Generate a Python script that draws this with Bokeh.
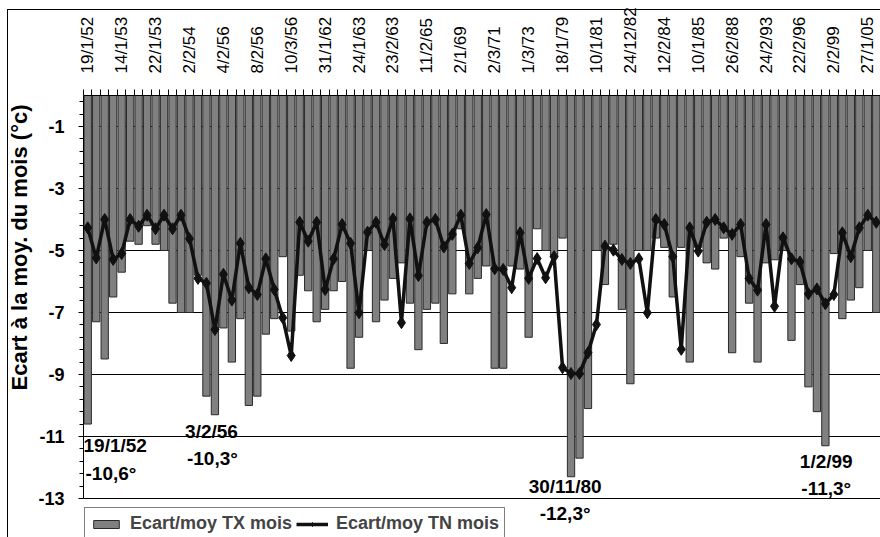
from bokeh.plotting import figure
from bokeh.models import Range1d, FixedTicker, Label, Legend, LegendItem, Title
from bokeh.embed import file_html
from bokeh.resources import INLINE

# Category labels (every 4th event, in chronological order)
dates = ["19/1/52", "14/1/53", "22/1/53", "2/2/54", "4/2/56", "8/2/56", "10/3/56",
         "31/1/62", "24/1/63", "23/2/63", "11/2/65", "2/1/69", "2/3/71", "1/3/73",
         "18/1/79", "10/1/81", "24/12/82", "12/2/84", "10/1/85", "26/2/88",
         "24/2/93", "22/2/96", "2/2/99", "27/1/05"]

# Ecart/moy TX mois (bars)
tx = [-10.6, -7.3, -8.5, -6.5, -5.7, -4.7, -4.8, -4.2, -4.8, -5.0,
      -6.7, -7.0, -7.0, -5.8, -9.7, -10.3, -7.5, -8.6, -7.2, -10.0,
      -9.7, -7.7, -7.2, -5.2, -7.6, -5.8, -6.3, -7.3, -6.9, -6.3,
      -6.0, -8.8, -7.8, -5.0, -7.3, -6.6, -5.9, -5.4, -6.7, -8.2,
      -6.9, -6.7, -8.0, -6.4, -4.3, -6.4, -5.9, -5.5, -8.8, -8.8,
      -5.5, -5.6, -7.8, -4.3, -5.0, -5.2, -4.6, -12.3, -11.7, -10.1,
      -5.0, -6.1, -4.8, -6.9, -9.3, -5.0, -5.0, -4.6, -4.9, -6.5,
      -4.9, -8.6, -4.9, -5.4, -5.6, -4.6, -8.3, -5.2, -6.7, -8.6,
      -5.4, -5.3, -5.0, -7.9, -6.1, -9.4, -10.2, -11.3, -5.1, -7.2,
      -6.6, -6.2, -5.0, -7.0]

# Ecart/moy TN mois (line)
tn = [-4.27, -5.24, -4.0, -5.29, -5.1, -4.0, -4.22, -3.86, -4.3, -3.86,
      -4.3, -3.86, -4.62, -5.9, -6.06, -7.55, -5.77, -6.6, -4.77, -6.2,
      -6.42, -5.27, -6.26, -7.17, -8.39, -4.09, -4.7, -4.09, -6.26, -5.27,
      -4.16, -4.77, -7.01, -4.41, -4.09, -4.81, -3.98, -7.33, -3.98, -5.81,
      -4.09, -4.0, -4.89, -4.48, -3.86, -5.42, -4.91, -3.84, -5.59, -5.61,
      -6.2, -4.43, -5.9, -5.26, -5.88, -5.2, -8.78, -8.97, -8.97, -8.3,
      -7.39, -4.86, -4.99, -5.29, -5.42, -5.27, -7.01, -4.0, -4.16, -5.2,
      -8.19, -4.27, -5.02, -4.09, -4.0, -4.27, -4.48, -4.16, -5.9, -6.28,
      -4.16, -6.8, -4.59, -5.27, -5.37, -6.4, -6.24, -6.72, -6.42, -4.43,
      -5.2, -4.27, -3.86, -4.09]

y_ticks = [-13, -11, -9, -7, -5, -3, -1]
y_title = "Ecart à la moy. du mois (°c)"

FONT = "Liberation Sans"
n = len(tx)
xs = [i + 0.5 for i in range(n)]

p = figure(width=880, height=537, x_range=Range1d(0, n), y_range=Range1d(-14.26, 0),
           x_axis_location="above", output_backend="svg", toolbar_location=None,
           min_border_left=83, min_border_top=95, min_border_bottom=0, min_border_right=0)
p.outline_line_color = None
p.background_fill_color = "white"
p.border_fill_color = None
p.styles = {"background": "linear-gradient(#000,#000) 7px 9px / 1px 100% no-repeat, "
                          "linear-gradient(#000,#000) 7px 9px / 100% 1px no-repeat, #fff"}

bars = p.vbar(x=xs, top=0, bottom=tx, width=0.86, fill_color="#808080",
              line_color="#2a2a2a", line_width=1)
ln = p.line(xs, tn, line_color="#111111", line_width=3.5, line_join="round")
mk = p.scatter(xs, tn, marker="diamond", size=12, fill_color="#111111", line_color="#111111")

# top category axis
xa = p.xaxis[0]
label_ticks = [xs[4 * i] for i in range(len(dates))]
xa.ticker = FixedTicker(ticks=label_ticks, minor_ticks=list(range(n + 1)))
xa.major_label_overrides = {t: d for t, d in zip(label_ticks, dates)}
xa.major_tick_out = 0
xa.major_tick_in = 0
xa.minor_tick_out = 6
xa.minor_tick_in = 0
xa.minor_tick_line_color = "black"
xa.axis_line_color = "black"
xa.major_label_orientation = "vertical"
xa.major_label_text_font = FONT
xa.major_label_text_font_size = "17px"
xa.major_label_text_color = "black"
xa.major_label_standoff = 16

ya = p.yaxis[0]
ya.bounds = (-13, 0)
ya.ticker = FixedTicker(ticks=y_ticks, minor_ticks=[round(-13 + 0.4 * k, 1) for k in range(33)])
ya.major_label_overrides = {t: str(t) for t in y_ticks}
ya.major_label_text_font = FONT
ya.major_label_text_font_size = "18px"
ya.major_label_text_font_style = "bold"
ya.major_label_text_color = "black"
ya.major_label_standoff = 14
ya.major_tick_out = 5
ya.major_tick_in = 0
ya.minor_tick_out = 4
ya.minor_tick_in = 0
ya.minor_tick_line_color = "black"
ya.axis_line_color = "black"

# vertical axis title, placed in the left panel, flush with the top of the axis
p.add_layout(Title(text=y_title, align="right", offset=9, standoff=8, vertical_align="bottom",
                   text_font=FONT, text_font_size="22px", text_font_style="bold",
                   text_color="black"), "left")

p.xgrid.visible = False
p.ygrid.ticker = FixedTicker(ticks=y_ticks)
p.ygrid.grid_line_color = "black"
p.ygrid.grid_line_width = 1

legend = Legend(items=[LegendItem(label="Ecart/moy TX mois", renderers=[bars]),
                       LegendItem(label="Ecart/moy TN mois", renderers=[ln, mk])],
                orientation="horizontal", location=(1, -3), glyph_width=32, glyph_height=10,
                label_height=21, label_standoff=8, spacing=4, padding=5, margin=0,
                border_line_color="black", border_line_width=1, background_fill_color="white",
                label_text_font=FONT, label_text_font_size="18px", label_text_font_style="bold")
p.add_layout(legend)

annos = [("19/1/52", 0.0, -10.95, "left", 0),
         ("-10,6°", 0.0, -11.85, "left", 2),
         ("3/2/56", 15.1, -10.5, "center", 0),
         ("-10,3°", 15.2, -11.37, "center", 0),
         ("30/11/80", 56.8, -12.27, "center", 0),
         ("-12,3°", 56.8, -13.14, "center", 0),
         ("1/2/99", 87.6, -11.47, "center", 0),
         ("-11,3°", 87.6, -12.34, "center", 0)]
for text, x, y, align, xo in annos:
    p.add_layout(Label(x=x, y=y, text=text, text_align=align, text_baseline="top", x_offset=xo,
                       text_font=FONT, text_font_size="19px", text_font_style="bold",
                       text_color="black"))

open("out.html", "w").write(file_html(p, INLINE))
